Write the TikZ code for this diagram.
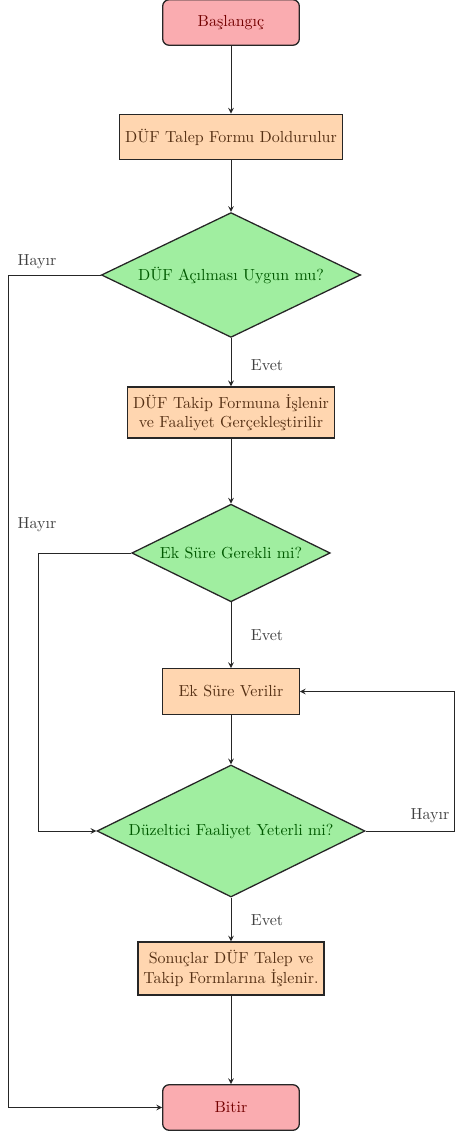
\documentclass[tikz,border=0pt]{standalone}
\usepackage{fontspec}
\usetikzlibrary{shapes.geometric}
\definecolor{termfill}{RGB}{250,172,176}
\definecolor{procfill}{RGB}{255,214,176}
\definecolor{decfill}{RGB}{160,238,160}
\definecolor{procink}{RGB}{85,48,20}
\begin{document}
\begin{tikzpicture}[x=0.625pt, y=-0.625pt, >=stealth,
        terminal/.style={rectangle, rounded corners=4pt, draw=black!85, thick, fill=termfill,
            text=red!45!black, minimum width=3cm, minimum height=1cm},
        process/.style={rectangle, draw=black!85, thick, fill=procfill, text=procink,
            minimum width=3cm, minimum height=1cm, align=center},
        decision/.style={diamond, aspect=2, inner sep=0pt, draw=black!85, thick, fill=decfill,
            text=green!35!black},
        flow/.style={->, semithick, black!85},
        answer/.style={text=black!75}]
    \useasboundingbox (0,0) rectangle (456,1134);

    % main column
    \node[terminal] (start) at (231,22.5) {Başlangıç};
    \node[process] (talep) at (231,137) {DÜF Talep Formu Doldurulur};
    \node[decision, minimum width=162pt, minimum height=78pt] (uygun) at (231,275) {DÜF Açılması Uygun mu?};
    \node[process, minimum height=32pt] (takip) at (231,412.5) {DÜF Takip Formuna İşlenir\\ve Faaliyet Gerçekleştirilir};
    \node[decision, minimum width=124pt, minimum height=61pt] (eksure) at (231,553) {Ek Süre Gerekli mi?};
    \node[process] (verilir) at (231,691.5) {Ek Süre Verilir};
    \node[decision, minimum width=167.5pt, minimum height=82.5pt] (yeterli) at (231,831) {Düzeltici Faaliyet Yeterli mi?};
    \node[process, minimum height=33pt] (sonuc) at (231,968.5) {Sonuçlar DÜF Talep ve\\Takip Formlarına İşlenir.};
    \node[terminal] (bitir) at (231,1107.5) {Bitir};

    \foreach \a/\b in {start/talep, talep/uygun, uygun/takip, takip/eksure,
        eksure/verilir, verilir/yeterli, yeterli/sonuc, sonuc/bitir}{
        \draw[flow] (\a) -- (\b);
    }

    % Evet labels
    \node[answer] (evet1) at (267,365) {Evet};
    \node[answer] (evet2) at (267,635) {Evet};
    \node[answer] (evet3) at (267,920) {Evet};

    % Hayir branches
    \coordinate (hayirA) at (8,275);
    \coordinate (hayirB) at (38,553);
    \coordinate (hayirC) at (454,831);
    \draw[flow] (uygun.west) -- (hayirA) |- (bitir.west);
    \draw[flow] (eksure.west) -- (hayirB) |- (yeterli.west);
    \draw[flow] (yeterli.east) -- (hayirC) |- (verilir.east);
    \node[answer] (hayir1) at (37,262) {Hayır};
    \node[answer] (hayir2) at (37,525) {Hayır};
    \node[answer] (hayir3) at (430,816) {Hayır};
\end{tikzpicture}
\end{document}
